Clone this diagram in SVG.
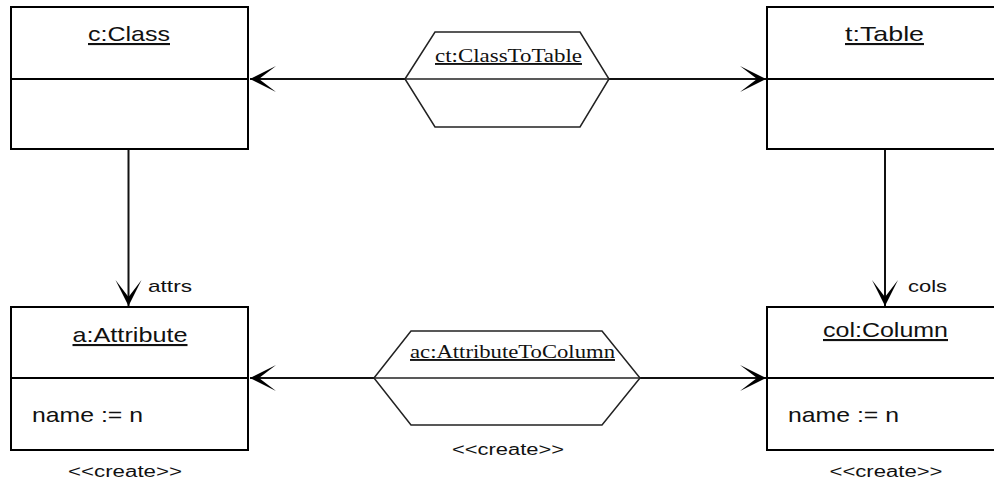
<svg xmlns="http://www.w3.org/2000/svg" width="994" height="486" viewBox="0 0 994 486">
<defs>
<style>
.box{fill:#fff;stroke:#000;stroke-width:2}
.div{stroke:#000;stroke-width:2}
.hex{fill:#fff;stroke:#222;stroke-width:1.5}
.hdiv{stroke:#222;stroke-width:1.5}
.conn{stroke:#111;stroke-width:2;fill:none}
.lbl{font-family:"Liberation Sans",Arial,sans-serif;font-size:21px;fill:#111;text-anchor:middle;text-decoration:underline}
.attr{font-family:"Liberation Sans",Arial,sans-serif;font-size:21px;fill:#111}
.ster{font-family:"Liberation Sans",Arial,sans-serif;font-size:16px;fill:#111;text-anchor:middle}
.role{font-family:"Liberation Sans",Arial,sans-serif;font-size:17px;fill:#111}
.slbl{font-family:"Liberation Serif","Times New Roman",serif;font-size:19px;fill:#111;text-anchor:middle;text-decoration:underline}
</style>
<marker id="arr" markerUnits="userSpaceOnUse" markerWidth="30" markerHeight="30" viewBox="-28 -15 30 30" refX="0" refY="0" orient="auto">
<path d="M0,0 L-26,-13 L-9,0 L-26,13 Z" fill="#000"/>
</marker>
</defs>

<g id="connectors">
<line class="conn" x1="405" y1="79" x2="250" y2="79" marker-end="url(#arr)"/>
<line class="conn" x1="609" y1="79" x2="766" y2="79" marker-end="url(#arr)"/>
<line class="conn" x1="128.5" y1="149" x2="128.5" y2="306" marker-end="url(#arr)"/>
<text class="role" x="148" y="292" textLength="44" lengthAdjust="spacingAndGlyphs">attrs</text>
<line class="conn" x1="885" y1="149" x2="885" y2="306" marker-end="url(#arr)"/>
<text class="role" x="908" y="292" textLength="39" lengthAdjust="spacingAndGlyphs">cols</text>
<line class="conn" x1="374" y1="378" x2="250" y2="378" marker-end="url(#arr)"/>
<line class="conn" x1="640" y1="378" x2="766" y2="378" marker-end="url(#arr)"/>
</g>

<g id="cClass">
<rect class="box" x="11" y="7" width="237" height="142"/>
<line class="div" x1="11" y1="79" x2="248" y2="79"/>
<text class="lbl" x="129" y="41" textLength="82" lengthAdjust="spacingAndGlyphs">c:Class</text>
</g>

<g id="tTable">
<rect class="box" x="767" y="7" width="237" height="142"/>
<line class="div" x1="767" y1="79" x2="1004" y2="79"/>
<text class="lbl" x="884.5" y="41" textLength="79" lengthAdjust="spacingAndGlyphs">t:Table</text>
</g>

<g id="ctClassToTable">
<polygon class="hex" points="405,79 435,32 580,32 609,79 580,127 435,127"/>
<line class="hdiv" x1="405" y1="79" x2="609" y2="79"/>
<text class="slbl" x="508.5" y="62" textLength="147" lengthAdjust="spacingAndGlyphs">ct:ClassToTable</text>
</g>

<g id="aAttribute">
<rect class="box" x="11" y="307" width="237" height="143"/>
<line class="div" x1="11" y1="378" x2="248" y2="378"/>
<text class="lbl" x="130" y="342" textLength="115" lengthAdjust="spacingAndGlyphs">a:Attribute</text>
<text class="attr" x="32" y="422" textLength="111" lengthAdjust="spacingAndGlyphs">name := n</text>
<text class="ster" x="125" y="477" textLength="114" lengthAdjust="spacingAndGlyphs">&lt;&lt;create&gt;&gt;</text>
</g>

<g id="colColumn">
<rect class="box" x="767" y="307" width="237" height="143"/>
<line class="div" x1="767" y1="378" x2="1004" y2="378"/>
<text class="lbl" x="885.5" y="337" textLength="125" lengthAdjust="spacingAndGlyphs">col:Column</text>
<text class="attr" x="788" y="422" textLength="111" lengthAdjust="spacingAndGlyphs">name := n</text>
<text class="ster" x="886" y="477" textLength="113" lengthAdjust="spacingAndGlyphs">&lt;&lt;create&gt;&gt;</text>
</g>

<g id="acAttributeToColumn">
<polygon class="hex" points="374,378 411,331 602,331 640,378 602,425 411,425"/>
<line class="hdiv" x1="374" y1="378" x2="640" y2="378"/>
<text class="slbl" x="512.5" y="358" textLength="205" lengthAdjust="spacingAndGlyphs">ac:AttributeToColumn</text>
<text class="ster" x="508" y="455" textLength="112" lengthAdjust="spacingAndGlyphs">&lt;&lt;create&gt;&gt;</text>
</g>
</svg>
